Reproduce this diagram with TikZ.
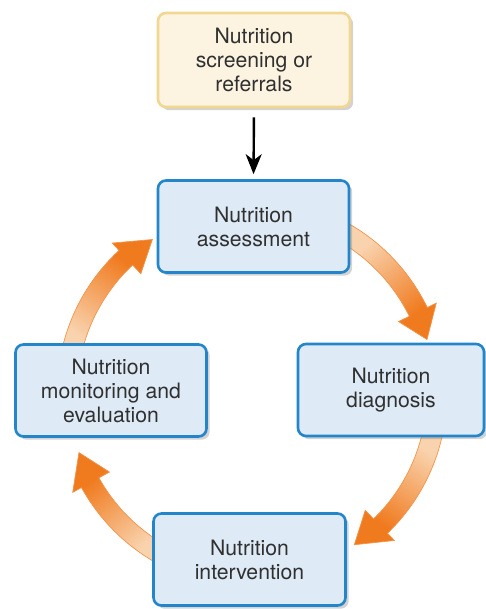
\documentclass[tikz,border=0pt]{standalone}
\usepackage{fontspec}
\setmainfont{TeX Gyre Heros}
\usetikzlibrary{arrows.meta,shadows}

\definecolor{boxblue}{HTML}{2386CB}
\definecolor{boxfill}{HTML}{DEEAF5}
\definecolor{screenline}{HTML}{F2D792}
\definecolor{screenfill}{HTML}{FCF4E1}
\definecolor{arrowlight}{HTML}{F9D3AE}
\definecolor{arrowdark}{HTML}{F07A1E}
\definecolor{textgray}{HTML}{303030}

% light tail to dark head, stops pulled in so the path sees the full range
\pgfdeclarehorizontalshading{cyclefade}{100bp}{color(0bp)=(arrowlight);
  color(30bp)=(arrowlight); color(70bp)=(arrowdark); color(100bp)=(arrowdark)}

% fat curved arrow round the hub: tail angle, head base angle, tip angle, shading angle
\newcommand{\cyclearrow}[4]{%
  \shadedraw[cycarrow, shading angle=#4]
    ([shift={(#1:195)}]hub) arc[start angle=#1, end angle=#2, radius=195]
    -- ([shift={(#2:205)}]hub) -- ([shift={(#3:183)}]hub)
    -- ([shift={(#2:163)}]hub) -- ([shift={(#2:175)}]hub)
    arc[start angle=#2, end angle=#1, radius=175] -- cycle;}

\begin{document}
\begin{tikzpicture}[x=0.5pt, y=0.5pt,
  font=\fontsize{10.6}{12}\selectfont,
  stage/.style={draw=boxblue, line width=1.3pt, fill=boxfill, text=textgray,
    rounded corners=4pt, align=center, minimum width=95.5pt, minimum height=46pt,
    drop shadow={shadow xshift=1.6pt, shadow yshift=-1.6pt, opacity=0.35}},
  entry/.style={stage, draw=screenline, fill=screenfill},
  cycarrow/.style={draw=arrowdark!80, line width=0.35pt, shading=cyclefade},
  feed/.style={-{Stealth[length=10pt, width=8pt, inset=3pt]}, line width=1.2pt,
    shorten <=4.5pt, shorten >=2.5pt}]
  \useasboundingbox (0,0) rectangle (486,-609);
  \coordinate (hub) at (252,-393);

  % Cycle arrows (drawn first, boxes cover their tails)
  \cyclearrow{60}{26}{17}{-51}
  \cyclearrow{-10}{-46}{-56}{-123}
  \cyclearrow{-118}{-151}{-161}{130}
  \cyclearrow{170}{133}{123}{57}

  % Boxes
  \node[entry, minimum width=96pt, minimum height=47pt] (screen) at (254,-60)
    {Nutrition\\screening or\\referrals};
  \node[stage] (assess) at (253.5,-226.5) {Nutrition\\assessment};
  \node[stage, minimum width=93pt] (diag) at (391,-390) {Nutrition\\diagnosis};
  \node[stage] (monit) at (111,-390.5) {Nutrition\\monitoring and\\evaluation};
  \node[stage, minimum width=96pt] (interv) at (249.5,-559.5) {Nutrition\\intervention};

  % Entry arrow
  \draw[feed] (screen.south) -- (assess.north);
\end{tikzpicture}
\end{document}
